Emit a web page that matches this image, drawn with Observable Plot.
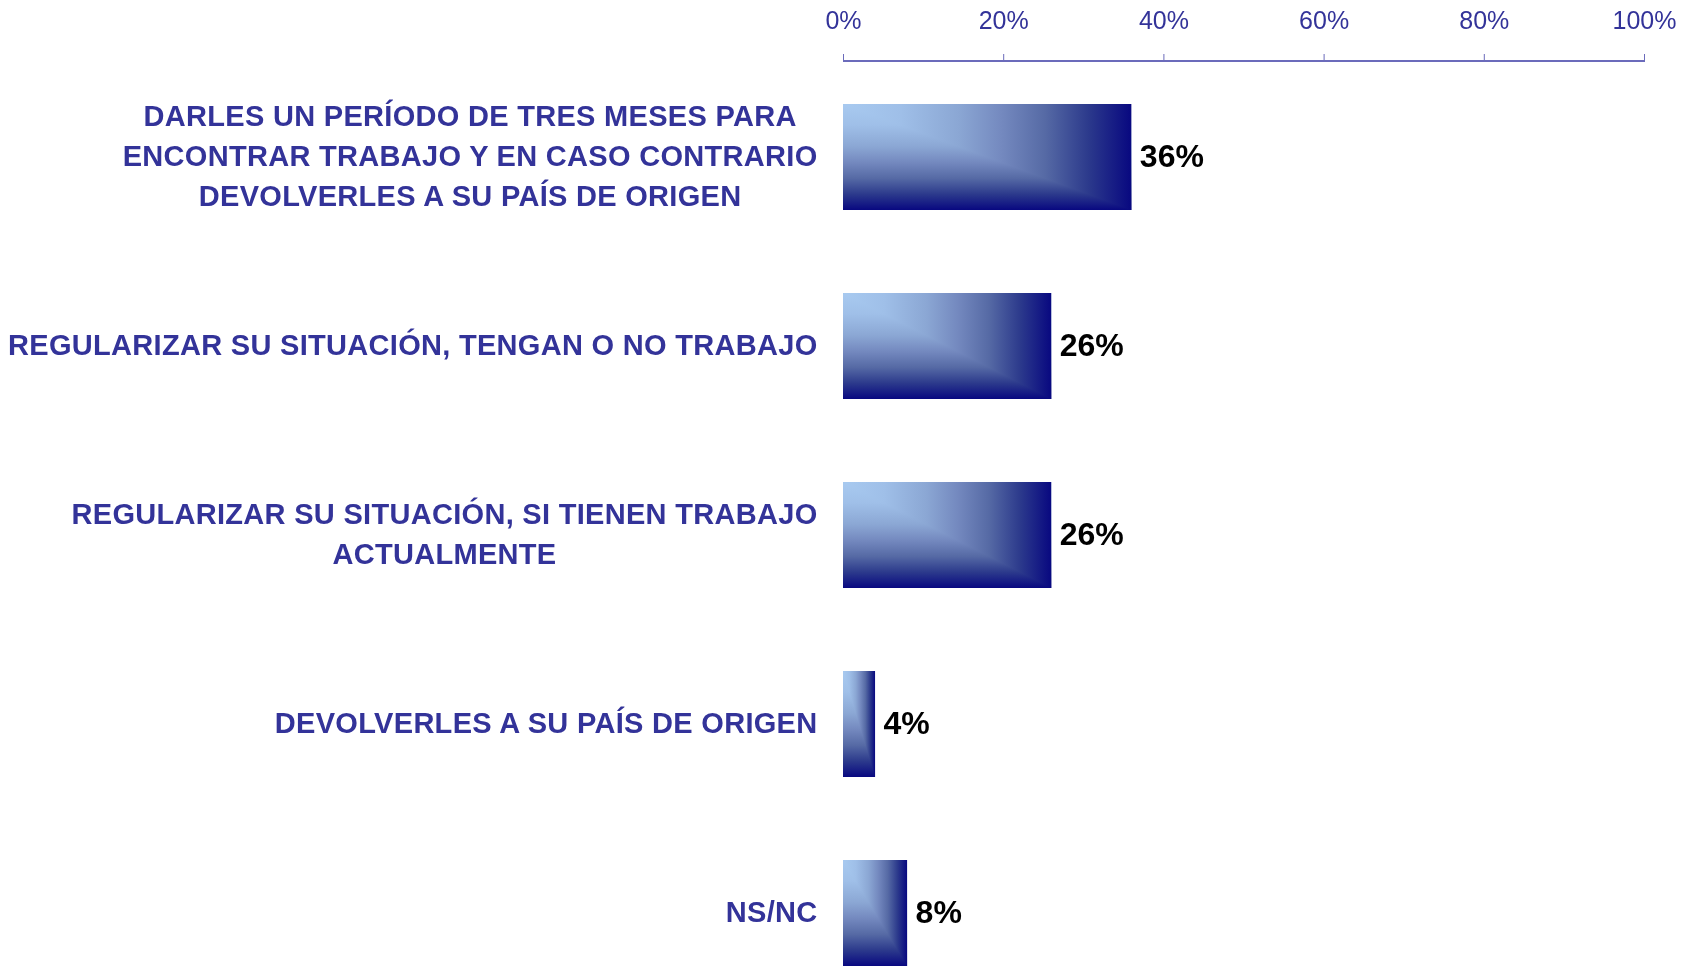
<!DOCTYPE html>
<html><head><meta charset="utf-8">
<script src="https://cdn.jsdelivr.net/npm/d3@7"></script>
<script src="https://cdn.jsdelivr.net/npm/@observablehq/plot@0.6"></script>
<style>
html,body{margin:0;padding:0;background:#fff;}
g[aria-label="y-axis tick label"] text{letter-spacing:0.3px;}
</style></head><body><div id="chart"></div>
<script>
const categories = [
  "DARLES UN PERÍODO DE TRES MESES PARA ENCONTRAR TRABAJO Y EN CASO CONTRARIO DEVOLVERLES A SU PAÍS DE ORIGEN",
  "REGULARIZAR SU SITUACIÓN, TENGAN O NO TRABAJO",
  "REGULARIZAR SU SITUACIÓN, SI TIENEN TRABAJO ACTUALMENTE",
  "DEVOLVERLES A SU PAÍS DE ORIGEN",
  "NS/NC"
];
const categoryLabels = [
  "DARLES UN PERÍODO DE TRES MESES PARA\nENCONTRAR TRABAJO Y EN CASO CONTRARIO\nDEVOLVERLES A SU PAÍS DE ORIGEN",
  "REGULARIZAR SU SITUACIÓN, TENGAN O NO TRABAJO",
  "REGULARIZAR SU SITUACIÓN, SI TIENEN TRABAJO\nACTUALMENTE",
  "DEVOLVERLES A SU PAÍS DE ORIGEN",
  "NS/NC"
];
const values = [36, 26, 26, 4, 8];
const xTicks = [0, 20, 40, 60, 80, 100];

const data = categories.map((c, i) => ({category: c, value: values[i]}));
const ns = "http://www.w3.org/2000/svg";
const ramp = [[0, "#a8caf0"], [0.2, "#9fbfe8"], [0.4, "#8ba7d4"], [0.55, "#7489bf"], [0.7, "#566aa5"], [0.85, "#2c3a8c"], [1, "#080880"]];

const gradientDefs = () => {
  const defs = document.createElementNS(ns, "defs");
  [["gradH", "1", "0"], ["gradV", "0", "1"]].forEach(([id, x2, y2]) => {
    const g = document.createElementNS(ns, "linearGradient");
    g.setAttribute("id", id);
    g.setAttribute("x1", "0"); g.setAttribute("y1", "0");
    g.setAttribute("x2", x2); g.setAttribute("y2", y2);
    ramp.forEach(([o, c]) => {
      const s = document.createElementNS(ns, "stop");
      s.setAttribute("offset", o);
      s.setAttribute("stop-color", c);
      g.appendChild(s);
    });
    defs.appendChild(g);
  });
  return defs;
};

const axisLine = (index, scales, vals, dims) => {
  const l = document.createElementNS(ns, "line");
  l.setAttribute("x1", scales.x(0));
  l.setAttribute("x2", scales.x(100));
  l.setAttribute("y1", dims.marginTop);
  l.setAttribute("y2", dims.marginTop);
  l.setAttribute("stroke", "#6b6bbb");
  l.setAttribute("stroke-width", 2);
  return l;
};

const plot = Plot.plot({
  width: 1686,
  height: 968,
  marginLeft: 843,
  marginRight: 42,
  marginTop: 61,
  marginBottom: 0,
  x: {domain: [0, 100]},
  y: {domain: categories, paddingInner: 0.44, paddingOuter: 0, insetTop: 41},
  style: {fontFamily: "'Liberation Sans', Arial, sans-serif", background: "white", overflow: "visible"},
  marks: [
    gradientDefs,
    Plot.barX(data, {x: "value", y: "category", fill: "url(#gradH)"}),
    Plot.barX(data, {x: "value", y: "category", fill: "url(#gradV)", mixBlendMode: "darken"}),
    Plot.text(data, {x: "value", y: "category", text: d => d.value + "%", textAnchor: "start", dx: 8, dy: -1, fontSize: 32, fontWeight: "bold", fill: "black"}),
    Plot.axisX({anchor: "top", ticks: xTicks, tickFormat: d => d + "%", tickSize: 8, tickPadding: 25, fontSize: 25, fill: "#333399", stroke: "#6b6bbb", label: null}),
    axisLine,
    Plot.axisY({anchor: "left", tickSize: 0, tickPadding: 26, dy: -4, tickFormat: d => categoryLabels[categories.indexOf(d)], fontSize: 29, fontWeight: "bold", fill: "#333399", lineHeight: 40 / 29, label: null})
  ]
});
document.getElementById("chart").appendChild(plot);

plot.querySelectorAll('g[aria-label="y-axis tick label"] text').forEach(t => {
  const spans = t.querySelectorAll("tspan");
  if (spans.length > 1) {
    const w = Math.max(...[...spans].map(s => s.getComputedTextLength()));
    t.setAttribute("text-anchor", "middle");
    spans.forEach(s => s.setAttribute("x", -w / 2));
  }
});
</script></body></html>
